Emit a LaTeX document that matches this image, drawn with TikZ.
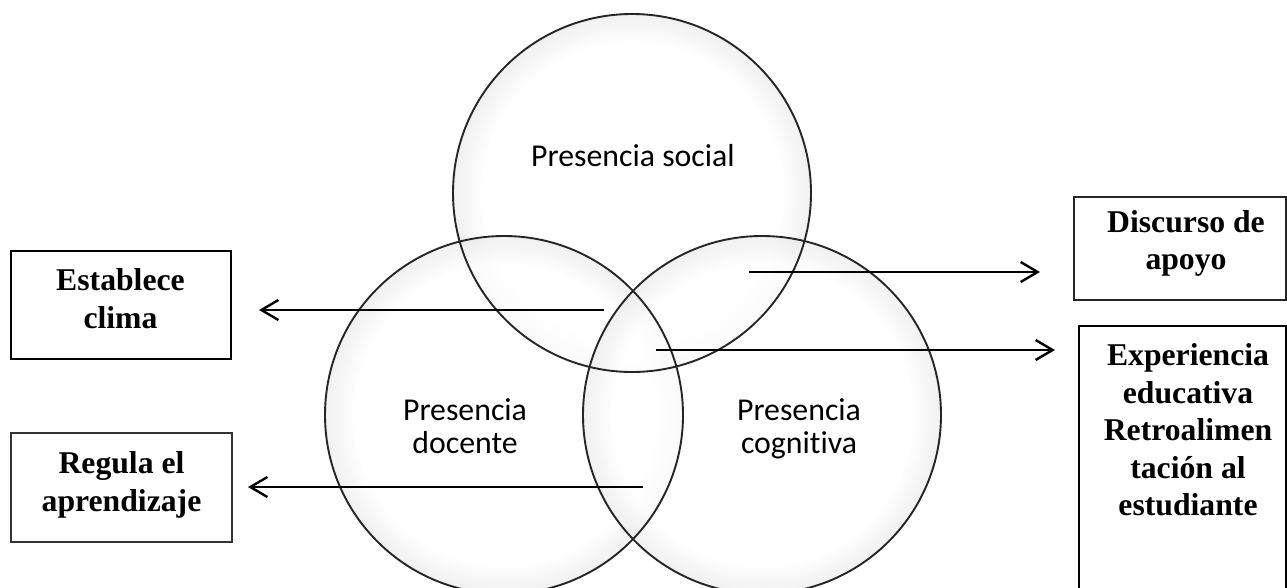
\documentclass[tikz,border=0pt]{standalone}
\usepackage{fontspec}
\setmainfont{Liberation Serif}
\newfontfamily\calib[Ligatures={NoCommon,NoRare,NoContextual}]{Carlito}
\usetikzlibrary{arrows.meta}
\pgfdeclareradialshading{glow}{\pgfpoint{0bp}{0bp}}{color(0bp)=(white); color(21bp)=(white); color(25bp)=(black!8); color(50bp)=(black!8)}
\begin{document}
\begin{tikzpicture}[x=1pt,y=-1pt,
  circ/.style={circle, draw=black!85, line width=1.9pt, minimum size=358pt, inner sep=0pt},
  ctext/.style={font=\calib\fontsize{31.8}{33}\selectfont, align=center, inner sep=0pt},
  boxnode/.style={draw=black, line width=2pt, inner sep=0pt},
  btext/.style={font=\bfseries\fontsize{31.7}{37.5}\selectfont, align=center, inner sep=0pt},
  arr/.style={line width=2.4pt, -{Straight Barb[length=17pt,width=20pt]}}]
\useasboundingbox (0,0) rectangle (1287,588);
\fill[white] (0,0) rectangle (1287,588);
% soft glow inside the circles
\shade[shading=glow, opacity=0.7] (632,193) circle[radius=179];
\shade[shading=glow, opacity=0.7] (504,415) circle[radius=179];
\shade[shading=glow, opacity=0.7] (762,415) circle[radius=179];
% circles
\node[circ] (social) at (632,193) {};
\node[circ] (docente) at (504,415) {};
\node[circ] (cognitiva) at (762,415) {};
% circle texts
\node[ctext] (tsocial) at (633,160.4) {Presencia social\strut};
\node[ctext] (tdocente) at (465,429.9) {Presencia\strut\\docente\strut};
\node[ctext] (tcognitiva) at (799,429.9) {Presencia\strut\\cognitiva\strut};
% boxes
\node[boxnode, minimum width=220pt, minimum height=108pt] (b1) at (121,305) {};
\node[boxnode, draw=black!80, minimum width=221pt, minimum height=109pt] (b2) at (121.5,487.5) {};
\node[boxnode, draw=black!85, minimum width=212pt, minimum height=103pt] (b3) at (1180,248.5) {};
\node[boxnode, minimum width=207pt, minimum height=274pt] (b4) at (1182.5,463) {};
% box texts
\node[btext] (t1) at (120.5,302.2) {Establece\strut\\clima\strut};
\node[btext] (t2) at (121.5,485) {Regula el\strut\\aprendizaje\strut};
\node[btext] (t3) at (1186,243.5) {Discurso de\strut\\apoyo\strut};
\node[btext] (t4) at (1188,433) {Experiencia\strut\\educativa\strut\\Retroalimen\strut\\tación al\strut\\estudiante\strut};
% arrows
\coordinate (s1) at (604,310);
\coordinate (s2) at (643,487);
\coordinate (s3) at (749,272);
\coordinate (s4) at (656,350);
\draw[arr, shorten >=27pt] (s1) -- (s1 -| b1.east);
\draw[arr, shorten >=15pt] (s2) -- (s2 -| b2.east);
\draw[arr, shorten >=33pt] (s3) -- (s3 -| b3.west);
\draw[arr, shorten >=23pt] (s4) -- (s4 -| b4.west);
\end{tikzpicture}
\end{document}
